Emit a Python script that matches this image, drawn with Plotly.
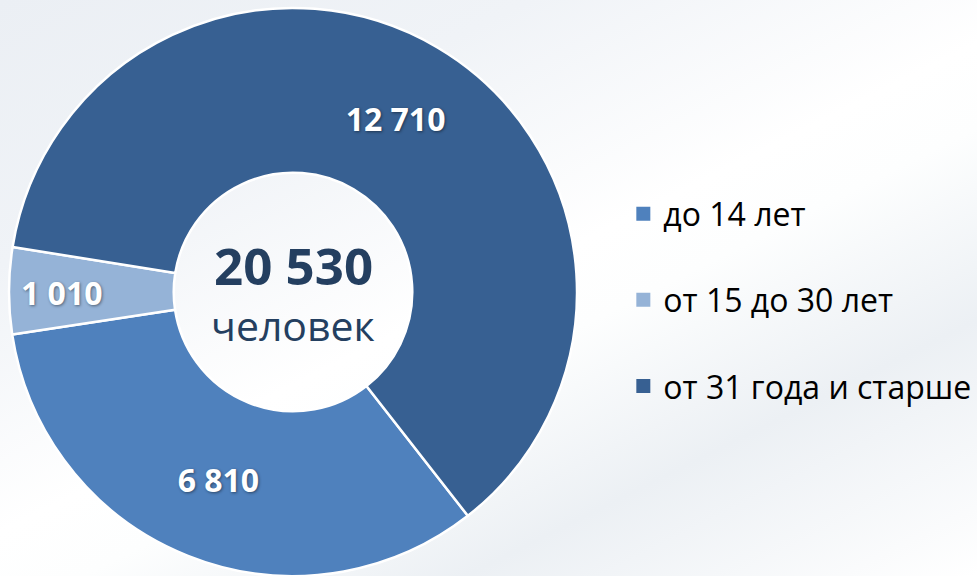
import base64

import plotly.graph_objects as go

labels = ["до 14 лет", "от 15 до 30 лет", "от 31 года и старше"]
values = [6810, 1010, 12710]
colors = ["#4F81BD", "#95B3D7", "#376092"]
unit_label = "человек"

total = sum(values)
total_text = f"{total:,}".replace(",", " ")

# extra empty line in each legend entry spreads the items out vertically
legend_labels = [f"{lab}<br> " for lab in labels]

W, H = 977, 576
cx, cy, r = 293, 292, 284
dom_x = [(cx - r) / W, (cx + r) / W]
dom_y = [0, 2 * r / H]

# soft diagonal banded background, like the slide it came from
bg_svg = f"""<svg xmlns="http://www.w3.org/2000/svg" width="{W}" height="{H}">
<defs><linearGradient id="g" gradientUnits="userSpaceOnUse" x1="0" y1="0" x2="426" y2="851">
<stop offset="0" stop-color="#EBEFF4"/>
<stop offset="0.25" stop-color="#F0F3F7"/>
<stop offset="0.5" stop-color="#FFFFFF"/>
<stop offset="0.58" stop-color="#FDFEFE"/>
<stop offset="0.76" stop-color="#ECF0F4"/>
<stop offset="1" stop-color="#FFFFFF"/>
</linearGradient></defs>
<rect width="{W}" height="{H}" fill="url(#g)"/></svg>"""
bg_uri = "data:image/svg+xml;base64," + base64.b64encode(bg_svg.encode()).decode()

fig = go.Figure()
fig.add_trace(
    go.Pie(
        labels=labels,
        values=values,
        sort=False,
        direction="clockwise",
        rotation=142,
        hole=0.42,
        domain=dict(x=dom_x, y=dom_y),
        marker=dict(colors=colors, line=dict(color="white", width=2.5)),
        texttemplate="%{value:,}",
        textposition="inside",
        insidetextorientation="horizontal",
        textfont=dict(
            family="Open Sans",
            size=32,
            color="white",
            weight="bold",
            shadow="1px 1px 3px rgba(0,0,0,0.45)",
        ),
        hovertemplate="%{label}: %{value:,}<extra></extra>",
        showlegend=False,
    )
)

# legend entries with bigger square swatches
for name, color in zip(legend_labels, colors):
    fig.add_trace(
        go.Scatter(
            x=[None],
            y=[None],
            mode="markers",
            name=name,
            marker=dict(symbol="square", size=14, color=color),
        )
    )

xc = sum(dom_x) / 2
yc = sum(dom_y) / 2
fig.add_annotation(
    x=xc, y=yc, xref="paper", yref="paper", xanchor="center", yanchor="bottom",
    yshift=-10, text=f"<b>{total_text}</b>", showarrow=False,
    font=dict(family="Open Sans", size=51, color="#243F60"),
)
fig.add_annotation(
    x=xc, y=yc, xref="paper", yref="paper", xanchor="center", yanchor="top",
    yshift=-3, text=unit_label, showarrow=False,
    font=dict(family="Open Sans", size=41, color="#243F60"),
)

fig.add_layout_image(
    source=bg_uri, xref="paper", yref="paper", x=0, y=1,
    sizex=1, sizey=1, sizing="stretch", xanchor="left", yanchor="top",
    layer="below",
)

fig.update_layout(
    width=W,
    height=H,
    margin=dict(l=0, r=0, t=0, b=0),
    paper_bgcolor="#F4F6F9",
    plot_bgcolor="rgba(0,0,0,0)",
    separators=", ",
    xaxis=dict(visible=False),
    yaxis=dict(visible=False),
    legend=dict(
        x=0.638, y=0.443, xanchor="left", yanchor="middle",
        font=dict(family="Open Sans", size=32, color="black"),
        valign="top",
        bgcolor="rgba(0,0,0,0)",
    ),
)

fig.write_html(
    "out.html",
    config={"displayModeBar": False},
    post_script="document.body.style.margin='0';document.body.style.overflow='hidden';",
)
